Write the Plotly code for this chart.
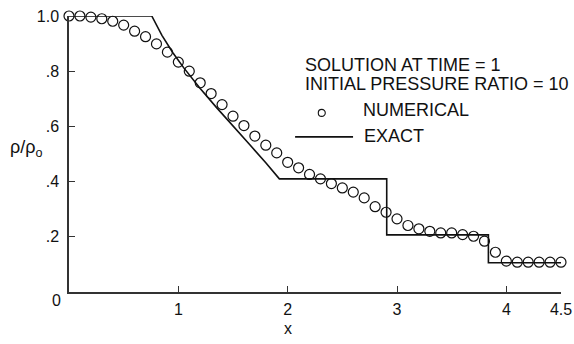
import plotly.graph_objects as go

# Numerical solution (open circles), x = 0 .. 4.5 step 0.1
num_x = [round(0.1 * i, 1) for i in range(46)]
num_rho = [1.0, 1.0, 0.996, 0.99, 0.981, 0.967, 0.945, 0.925, 0.899, 0.869,
           0.833, 0.80, 0.758, 0.719, 0.679, 0.637, 0.603, 0.565, 0.532, 0.504,
           0.47, 0.45, 0.426, 0.41, 0.393, 0.377, 0.362, 0.341, 0.309, 0.289,
           0.265, 0.241, 0.229, 0.22, 0.214, 0.214, 0.208, 0.202, 0.184, 0.144,
           0.112, 0.108, 0.108, 0.108, 0.108, 0.108]

# Exact solution (solid line)
exact_x = [0.0, 0.757, 0.85, 0.95, 1.05, 1.2, 1.35, 1.5, 1.65, 1.8, 1.924,
           2.906, 2.906, 3.836, 3.836, 4.5]
exact_rho = [1.0, 1.0, 0.93, 0.867, 0.812, 0.737, 0.668, 0.603, 0.535, 0.468, 0.41,
             0.41, 0.207, 0.207, 0.106, 0.106]

x_ticks = [1, 2, 3, 4, 4.5]
x_tick_text = ["1", "2", "3", "4", "4.5"]
y_ticks = [0.2, 0.4, 0.6, 0.8, 1.0]
y_tick_text = [".2", ".4", ".6", ".8", "1.0"]

FONT = "Liberation Sans, Arial, sans-serif"
INK = "#111111"

fig = go.Figure()
fig.add_trace(go.Scatter(x=exact_x, y=exact_rho, mode="lines",
                         line=dict(color=INK, width=1.6), cliponaxis=False,
                         showlegend=False, hoverinfo="skip"))
fig.add_trace(go.Scatter(x=num_x, y=num_rho, mode="markers",
                         marker=dict(symbol="circle-open", size=10,
                                     color=INK, line=dict(width=1.2, color=INK)),
                         cliponaxis=False, showlegend=False))

axis_common = dict(showgrid=False, zeroline=False, showline=True, linecolor="#333333",
                   linewidth=1.5, ticks="inside", ticklen=6, tickwidth=1.2,
                   tickcolor="#333333", automargin=False, ticklabeloverflow="allow",
                   tickfont=dict(family=FONT, size=16, color=INK))

fig.update_layout(
    width=574, height=344,
    margin=dict(l=69, r=13, t=16, b=51.5),
    paper_bgcolor="white", plot_bgcolor="white",
    xaxis=dict(range=[0, 4.5], tickvals=x_ticks, ticktext=x_tick_text,
               ticklabelstandoff=2, **axis_common),
    yaxis=dict(range=[0, 1.0], tickvals=y_ticks, ticktext=y_tick_text,
               ticklabelstandoff=5, **axis_common),
    showlegend=False,
)

ann_font = dict(family=FONT, size=18, color=INK)
annotations = [
    dict(text="SOLUTION AT TIME = 1", x=2.141, y=0.821, xanchor="left", yanchor="middle",
         xref="x", yref="y", showarrow=False, font=ann_font),
    dict(text="INITIAL PRESSURE RATIO = 10", x=2.141, y=0.754, xanchor="left",
         yanchor="middle", xref="x", yref="y", showarrow=False, font=ann_font),
    dict(text="NUMERICAL", x=2.669, y=0.661, xanchor="left", yanchor="middle",
         xref="x", yref="y", showarrow=False, font=ann_font),
    dict(text="EXACT", x=2.678, y=0.5645, xanchor="left", yanchor="middle",
         xref="x", yref="y", showarrow=False, font=ann_font),
    dict(text="x", x=2.0, y=-0.132, xref="x", yref="paper", showarrow=False,
         xanchor="center", yanchor="middle", font=dict(family=FONT, size=16, color=INK)),
    dict(text="0", x=-0.012, y=-0.029, xref="paper", yref="paper", showarrow=False,
         xanchor="right", yanchor="middle", font=dict(family=FONT, size=16, color=INK)),
    dict(text="ρ/ρ<sub>o</sub>", x=-0.124, y=0.52, xref="paper", yref="paper",
         showarrow=False, xanchor="left", yanchor="middle",
         font=dict(family=FONT, size=18, color=INK)),
]
fig.update_layout(annotations=annotations)

fig.add_shape(type="circle", xref="x", yref="y", xsizemode="pixel", ysizemode="pixel",
              xanchor=2.312, yanchor=0.649, x0=-3.5, x1=3.5, y0=-3.5, y1=3.5,
              line=dict(color=INK, width=1.1))
fig.add_shape(type="line", xref="x", yref="y", x0=2.068, x1=2.598, y0=0.562, y1=0.562,
              line=dict(color=INK, width=1.6))

# remove the default 8px page margin so the figure fills the window exactly
fig.write_html("out.html",
               config={"displayModeBar": False},
               post_script="document.body.style.margin='0';"
                           "document.body.style.overflow='hidden';")
